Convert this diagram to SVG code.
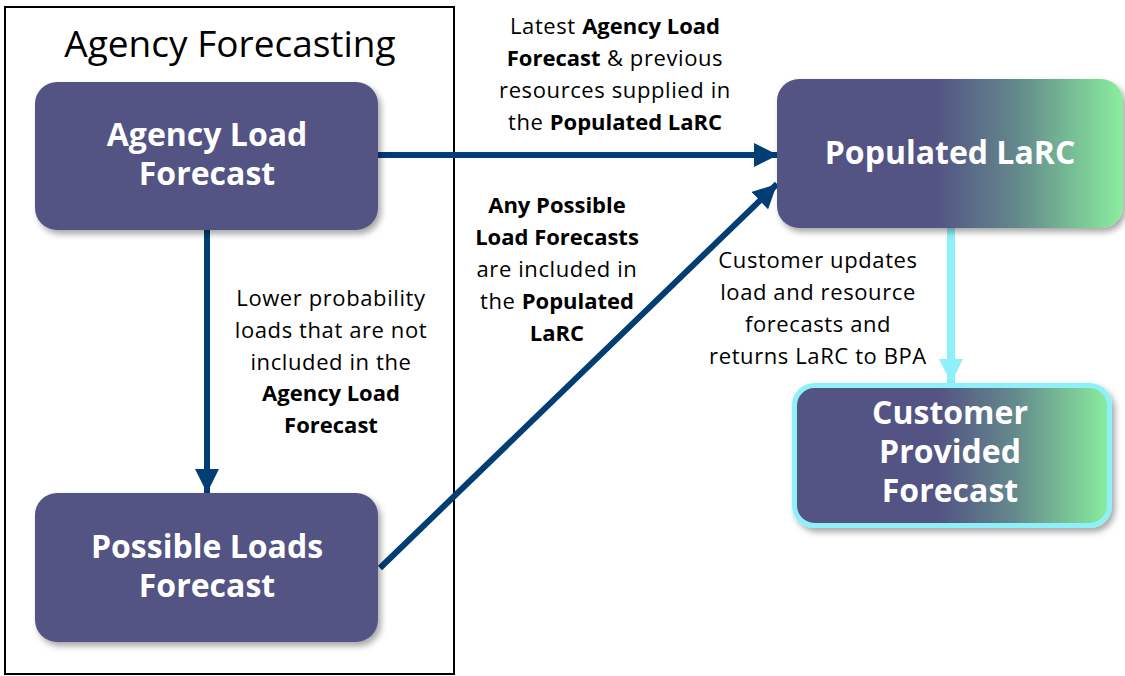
<svg xmlns="http://www.w3.org/2000/svg" width="1125" height="676" viewBox="0 0 1125 676">
<style>
.node{fill:#535284;}
.nt{font-family:"Open Sans","Liberation Sans",sans-serif;font-weight:bold;font-size:32px;fill:#ffffff;text-anchor:middle;}
.lbl{font-family:"Open Sans","Liberation Sans",sans-serif;font-size:22px;letter-spacing:0.6px;fill:#000000;text-anchor:middle;}
.b{font-weight:bold;letter-spacing:0;}
.nav{stroke:#023E73;stroke-width:6;fill:none;}
.cy{stroke:#8EF0F8;stroke-width:8;fill:none;}
</style>
<defs>
<filter id="sh" x="-10%" y="-10%" width="130%" height="130%">
<feDropShadow dx="3" dy="4" stdDeviation="3" flood-color="#000" flood-opacity="0.35"/>
</filter>
<linearGradient id="g" x1="0" y1="0" x2="1" y2="0">
<stop offset="0" stop-color="#535284"/>
<stop offset="0.45" stop-color="#535284"/>
<stop offset="0.7" stop-color="#648A8C"/>
<stop offset="1" stop-color="#8AEE9E"/>
</linearGradient>
<marker id="an" markerUnits="userSpaceOnUse" markerWidth="24" markerHeight="24" viewBox="0 0 24 24" refX="24" refY="12" orient="auto">
<path d="M0,0 L24,12 L0,24 Z" fill="#023E73"/>
</marker>
<marker id="ac" markerUnits="userSpaceOnUse" markerWidth="24" markerHeight="24" viewBox="0 0 24 24" refX="24" refY="12" orient="auto">
<path d="M0,0 L24,12 L0,24 Z" fill="#8EF0F8"/>
</marker>
</defs>
<rect width="1125" height="676" fill="#ffffff"/>
<g id="agency-forecasting">
<rect x="5" y="7" width="449" height="667" fill="none" stroke="#000" stroke-width="2"/>
<text x="230" y="57" font-family="Open Sans, Liberation Sans, sans-serif" font-size="37" text-anchor="middle" fill="#000">Agency Forecasting</text>
</g>
<g id="connectors">
<line class="nav" x1="378" y1="155" x2="778" y2="155" marker-end="url(#an)"/>
<line class="nav" x1="380" y1="568" x2="777" y2="184" marker-end="url(#an)"/>
<line class="nav" x1="207" y1="230" x2="207" y2="493" marker-end="url(#an)"/>
<line class="cy" x1="951" y1="228" x2="951" y2="383" marker-end="url(#ac)"/>
</g>
<g id="agency-load-forecast">
<rect class="node" x="35" y="82" width="343" height="148" rx="22" filter="url(#sh)"/>
<text class="nt" x="207" y="146">Agency Load</text>
<text class="nt" x="207" y="185">Forecast</text>
</g>
<g id="possible-loads-forecast">
<rect class="node" x="35" y="493" width="343" height="149" rx="22" filter="url(#sh)"/>
<text class="nt" x="207" y="558">Possible Loads</text>
<text class="nt" x="207" y="597">Forecast</text>
</g>
<g id="populated-larc">
<rect x="777" y="79" width="346" height="149" rx="22" fill="url(#g)" filter="url(#sh)"/>
<text class="nt" x="950" y="164">Populated LaRC</text>
</g>
<g id="customer-provided-forecast">
<rect x="794.5" y="385.5" width="315" height="140" rx="20" fill="url(#g)" stroke="#8EF0F8" stroke-width="5" filter="url(#sh)"/>
<text class="nt" x="950" y="424">Customer</text>
<text class="nt" x="950" y="463">Provided</text>
<text class="nt" x="950" y="502">Forecast</text>
</g>
<g id="labels">
<text class="lbl" x="615" y="34">Latest <tspan class="b">Agency Load</tspan></text>
<text class="lbl" x="615" y="66"><tspan class="b">Forecast</tspan> &amp; previous</text>
<text class="lbl" x="615" y="98">resources supplied in</text>
<text class="lbl" x="615" y="130">the <tspan class="b">Populated LaRC</tspan></text>
<text class="lbl" x="557" y="213"><tspan class="b">Any Possible</tspan></text>
<text class="lbl" x="557" y="245"><tspan class="b">Load Forecasts</tspan></text>
<text class="lbl" x="557" y="277">are included in</text>
<text class="lbl" x="557" y="309">the <tspan class="b">Populated</tspan></text>
<text class="lbl" x="557" y="341"><tspan class="b">LaRC</tspan></text>
<text class="lbl" x="331" y="306">Lower probability</text>
<text class="lbl" x="331" y="338">loads that are not</text>
<text class="lbl" x="331" y="370">included in the</text>
<text class="lbl" x="331" y="401"><tspan class="b">Agency Load</tspan></text>
<text class="lbl" x="331" y="433"><tspan class="b">Forecast</tspan></text>
<text class="lbl" x="818" y="268">Customer updates</text>
<text class="lbl" x="818" y="300">load and resource</text>
<text class="lbl" x="818" y="332">forecasts and</text>
<text class="lbl" x="818" y="364">returns LaRC to BPA</text>
</g>
</svg>
